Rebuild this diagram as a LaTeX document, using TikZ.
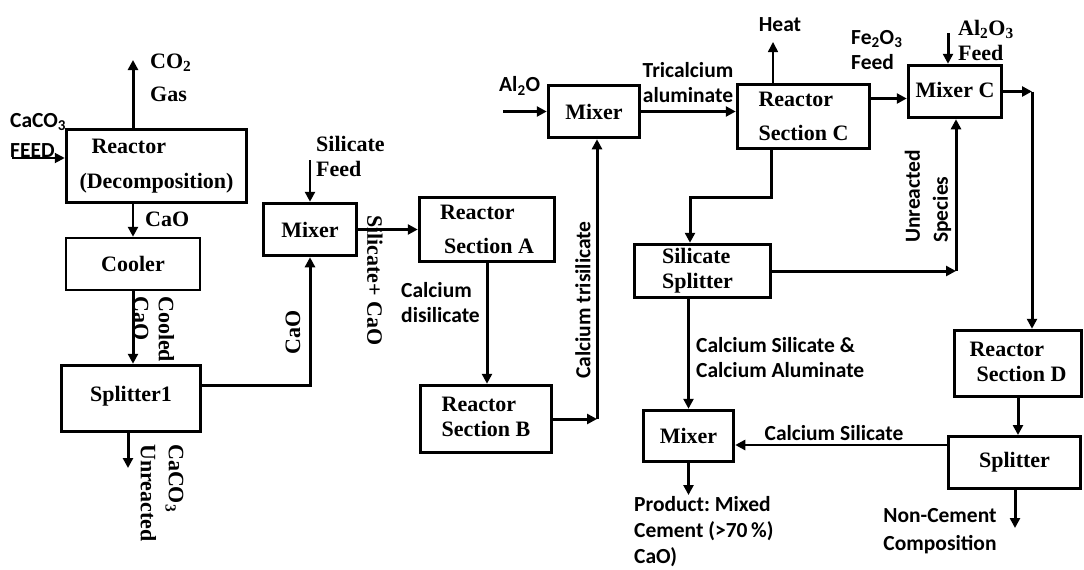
\documentclass[tikz,border=0pt]{standalone}
\usepackage{fontspec}
\setmainfont{Liberation Serif}
\newfontfamily\calib{Carlito}
\usetikzlibrary{arrows.meta}
\newcommand\flowfont{\fontsize{22}{25}\selectfont}
\newcommand\labfont{\fontsize{21.5}{25}\selectfont}
\newcommand\lift[2]{\raisebox{#1}{\begin{tabular}{@{}l@{}}#2\end{tabular}}}

\begin{document}
\begin{tikzpicture}[x=1pt,y=-1pt,>={Triangle[length=10pt,width=10pt]},
  box/.style={draw,line width=3.5pt,align=left,font=\flowfont\bfseries,inner sep=0pt},
  flow/.style={line width=3pt,->},
  lbl/.style={font=\flowfont\bfseries,align=left,inner sep=0pt},
  slbl/.style={font=\labfont\calib\bfseries,align=left,inner sep=0pt}]
 \useasboundingbox (0,0) rectangle (1084,570);
 % unit blocks
 \node[box,minimum width=180pt,minimum height=73pt] (reac) at (156.5,166) {\hspace*{12pt}Reactor\\[10pt](Decomposition)};
 \node[box,line width=2.5pt,minimum width=134pt,minimum height=52pt] (cool) at (133,264) {Cooler};
 \node[box,minimum width=139pt,minimum height=66pt] (spl1) at (131,398.5) {\raisebox{10pt}{Splitter1}};
 \node[box,minimum width=93pt,minimum height=52pt] (mix1) at (310,229.5) {Mixer};
 \node[box,minimum width=135pt,minimum height=64pt] (reacA) at (487,229.5) {Reactor\\[9pt]\hspace*{4pt}Section A};
 \node[box,minimum width=131pt,minimum height=67pt] (reacB) at (486,419) {\lift{8pt}{Reactor\\Section B}};
 \node[box,minimum width=91pt,minimum height=52pt] (mix2) at (594,111.5) {Mixer};
 \node[box,minimum width=132pt,minimum height=64pt] (reacC) at (803.5,116.5) {Reactor\\[9pt]Section C};
 \node[box,minimum width=93pt,minimum height=52pt] (mixC) at (955,91.5) {\raisebox{3pt}{Mixer C}};
 \node[box,minimum width=136pt,minimum height=53pt] (silspl) at (702.5,271) {Silicate\\Splitter\hspace*{10pt}};
 \node[box,minimum width=90pt,minimum height=51pt] (mix3) at (688.5,436) {Mixer};
 \node[box,minimum width=127pt,minimum height=66pt] (reacD) at (1018,363.5) {\lift{5pt}{Reactor\\\hspace*{7pt}Section D}};
 \node[box,line width=3pt,minimum width=132pt,minimum height=52pt] (spl) at (1014.5,462.5) {Splitter};
 % stream labels
 \node[lbl,anchor=west] (co2) at (150,78) {CO\textsubscript{2}\\[8pt]Gas};
 \node[lbl,anchor=west] (cao1) at (145,219) {CaO};
 \node[lbl,rotate=-90,anchor=west] (cooled) at (154,296) {Cooled\\CaO};
 \node[lbl,rotate=-90,anchor=west] (unr1) at (162,444) {CaCO\textsubscript{3}\\[3pt]Unreacted};
 \node[lbl,rotate=90] (cao2) at (293,332) {CaO};
 \node[lbl,anchor=west] (silfeed) at (316,156) {Silicate\\Feed};
 \node[lbl,rotate=-90,anchor=west] (silcao) at (375,215) {Silicate+ CaO};
 \node[lbl,anchor=west] (al2o3) at (958,40) {Al\textsubscript{2}O\textsubscript{3}\\Feed};
 \node[slbl,anchor=west] (caco3) at (10,135) {CaCO\textsubscript{3}\\[5pt]FEED};
 \node[slbl,anchor=west] (al2o) at (499,86) {Al\textsubscript{2}O};
 \node[slbl,align=center] (trical) at (688,83) {Tricalcium\\aluminate};
 \node[slbl,anchor=west] (disil) at (401,303) {Calcium\\disilicate};
 \node[slbl,rotate=90] (trisil) at (583,300) {Calcium trisilicate};
 \node[slbl] (heat) at (780,25) {Heat};
 \node[slbl,anchor=west] (fe2o3) at (851,50) {Fe\textsubscript{2}O\textsubscript{3}\\Feed};
 \node[slbl,rotate=90,anchor=west] (unsp) at (928,243) {Unreacted\\[3pt]Species};
 \node[slbl,anchor=west] (casial) at (696,358) {Calcium Silicate \&\\Calcium Aluminate};
 \node[slbl] (casil) at (834,433) {Calcium Silicate};
 \node[slbl,anchor=west] (product) at (634,532) {Product:\ Mixed\\[1pt]Cement (>70\,\%)\\[1pt]CaO)};
 \node[slbl,align=center] (noncem) at (940,531) {Non-Cement\\[3pt]Composition};
 % free ends and junctions
 \coordinate (feedin) at (12,158);  \coordinate (co2out) at (133,60);
 \coordinate (unrout) at (128,468); \coordinate (silin) at (310,160);
 \coordinate (trij) at (597,419);   \coordinate (alin) at (503,111.5);
 \coordinate (heatout) at (773,42); \coordinate (alo3in) at (948,33);
 \coordinate (dj) at (1032,91.5);   \coordinate (cs) at (690,197);
 \coordinate (uj) at (956,271);     \coordinate (prodout) at (688.5,495);
 \coordinate (ncout) at (1015,528);
 % streams
 \draw[flow,line width=2pt] (feedin) -- (feedin -| reac.west);
 \draw[flow] (co2out |- reac.north) -- (co2out);
 \draw[flow,line width=2.5pt] (reac.south -| cool) -- (cool.north);
 \draw[flow] (cool.south) -- (spl1.north -| cool.south);
 \draw[flow] (unrout |- spl1.south) -- (unrout);
 \draw[flow] ([yshift=13.5pt]spl1.east) -| (mix1.south);
 \draw[flow,line width=2.5pt] (silin) -- (mix1.north);
 \draw[flow] (mix1) -- (reacA);
 \draw[flow] (reacA.south) -- (reacA.south |- reacB.north);
 \draw[flow] (reacB.east) -- (trij);
 \draw[flow] (trij) -- (trij |- mix2.south);
 \draw[flow] (alin) -- (mix2.west);
 \draw[flow] (mix2.east) -- (mix2.east -| reacC.west);
 \draw[flow,line width=1.5pt] (heatout |- reacC.north) -- (heatout);
 \draw[flow] ([yshift=18pt]reacC.east) -- ([yshift=18pt]reacC.east -| mixC.west);
 \draw[flow] (alo3in) -- (alo3in |- mixC.north);
 \draw[flow] (mixC.east) -- (dj);
 \draw[flow] (dj) -- (dj |- reacD.north);
 \draw[flow] ([xshift=-32pt]reacC.south) |- (cs) -- (cs |- silspl.north);
 \draw[flow] (silspl.east) -- (uj);
 \draw[flow] (uj) -- (uj |- mixC.south);
 \draw[flow] (silspl.south -| mix3) -- (mix3.north);
 \draw[flow] (mix3.south) -- (prodout);
 \draw[flow] (reacD.south) -- (reacD.south |- spl.north);
 \draw[flow,line width=2.5pt] ([yshift=17.5pt]spl.west) -- ([yshift=17.5pt]spl.west -| mix3.east);
 \draw[flow] (ncout |- spl.south) -- (ncout);
\end{tikzpicture}
\end{document}
